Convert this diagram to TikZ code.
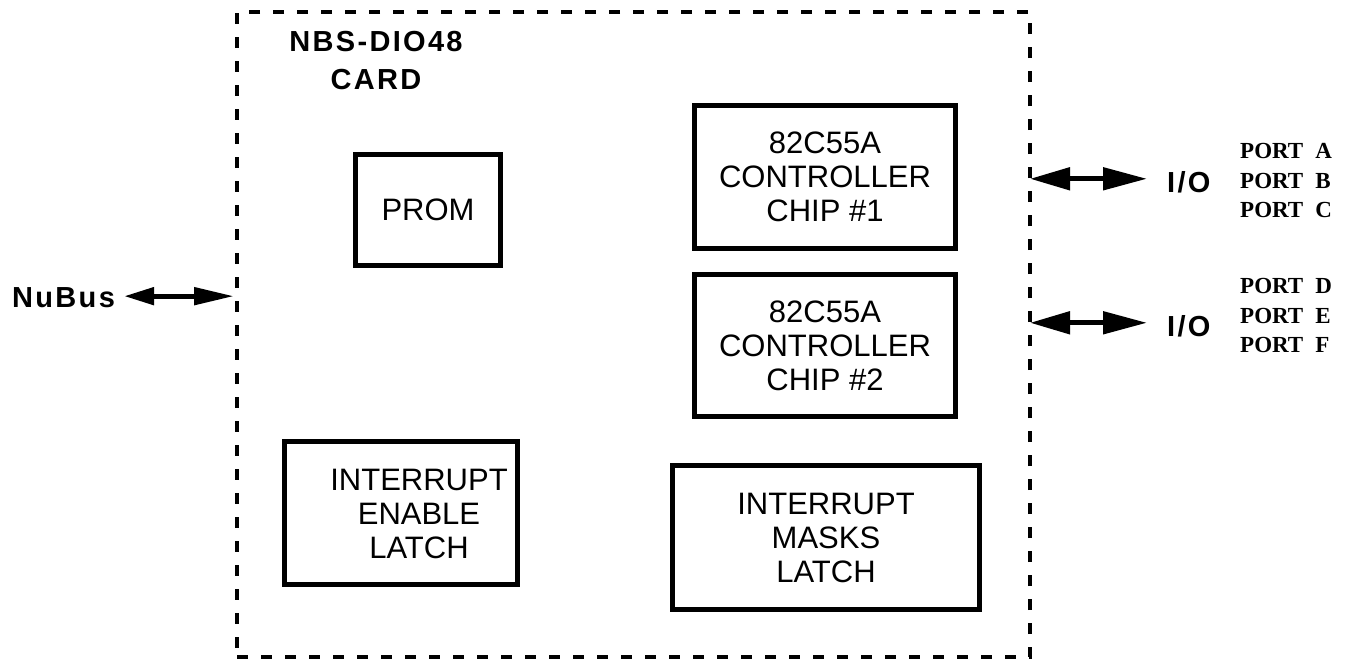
\documentclass[tikz,border=0pt]{standalone}
\usepackage{fontspec}
\setmainfont{Liberation Sans}
\newfontfamily\spacedsans{Liberation Sans}[LetterSpace=8]
\newfontfamily\portserif{Liberation Serif}
\usetikzlibrary{arrows.meta}
\begin{document}
\begin{tikzpicture}[x=1pt,y=-1pt,
  blockbox/.style={draw, line width=5pt, inner sep=0pt, outer sep=0pt, align=center,
    font=\fontsize{31}{34}\selectfont},
  blocktext/.style={inner sep=0pt, align=center, font=\fontsize{31}{34}\selectfont},
  boldlabel/.style={font=\spacedsans\bfseries\fontsize{29}{38}\selectfont, inner sep=0pt, align=center},
  portlabel/.style={font=\portserif\bfseries\fontsize{23}{29.5}\selectfont, inner sep=0pt, anchor=base west},
  cardframe/.style={draw, line width=3.5pt, dash pattern=on 11pt off 13pt, inner sep=0pt, outer sep=0pt},
  busarrow/.style={line width=5pt, {Triangle[length=30pt,width=17pt]}-{Triangle[length=40pt,width=17pt]}},
  ioarrow/.style={line width=5pt, {Triangle[length=40pt,width=22pt]}-{Triangle[length=44pt,width=22pt]}}
]
\useasboundingbox (0,0) rectangle (1350,659);

% card frame
\node[cardframe, minimum width=793pt, minimum height=645pt] (card) at (633.5,334.5) {};
\node[boldlabel] (title) at (376,61) {NBS-DIO48\\CARD};

% blocks
\node[blockbox, minimum width=145pt, minimum height=111pt] (prom) at (428,210) {PROM};
\node[blockbox, minimum width=261pt, minimum height=143pt] (chipa) at (825,177) {82C55A\\CONTROLLER\\CHIP \#1};
\node[blockbox, minimum width=261pt, minimum height=142pt] (chipb) at (825,345.5) {82C55A\\CONTROLLER\\CHIP \#2};
\node[blockbox, minimum width=233pt, minimum height=143pt] (iel) at (401,513) {};
\node[blocktext] (ieltext) at (419,514) {INTERRUPT\\ENABLE\\LATCH};
\node[blockbox, minimum width=307pt, minimum height=144pt] (iml) at (826,537.5) {INTERRUPT\\MASKS\\LATCH};

% NuBus
\node[boldlabel, anchor=base west] (nubus) at (12,307) {NuBus};
\draw[busarrow, shorten <=9pt, shorten >=3pt] ([yshift=1pt]nubus.east) -- ([yshift=1pt]nubus.east -| card.west);

% I/O
\node[boldlabel, anchor=base west] (ioa) at (1167,192) {I/O};
\node[boldlabel, anchor=base west] (iob) at (1167,336) {I/O};
\draw[ioarrow, shorten >=20pt] ([yshift=3pt]ioa.west -| card.east) -- ([yshift=3pt]ioa.west);
\draw[ioarrow, shorten >=20pt] ([yshift=3pt]iob.west -| card.east) -- ([yshift=3pt]iob.west);

% ports
\node[portlabel] (pa) at (1240,158) {PORT\hspace{12pt}A};
\node[portlabel] (pb) at (1240,188) {PORT\hspace{12pt}B};
\node[portlabel] (pc) at (1240,217) {PORT\hspace{12pt}C};
\node[portlabel] (pd) at (1240,293) {PORT\hspace{12pt}D};
\node[portlabel] (pe) at (1240,323) {PORT\hspace{12pt}E};
\node[portlabel] (pf) at (1240,352) {PORT\hspace{12pt}F};
\end{tikzpicture}
\end{document}
